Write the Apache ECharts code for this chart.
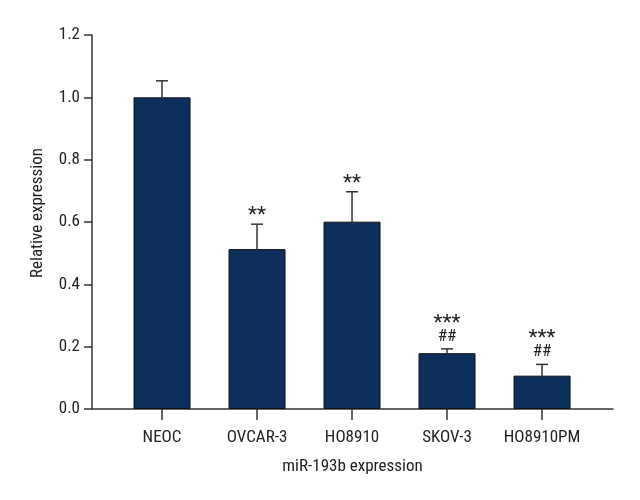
<!DOCTYPE html>
<html><head><meta charset="utf-8">
<script src="https://cdn.jsdelivr.net/npm/echarts@6/dist/echarts.min.js"></script>
<style>html,body{margin:0;padding:0;background:#fff}#c{width:640px;height:500px}</style>
</head><body><div id="c"></div>
<script>
var categories = ['NEOC', 'OVCAR-3', 'HO8910', 'SKOV-3', 'HO8910PM'];
var means = [1.0, 0.513, 0.601, 0.179, 0.107];
var errors = [0.053, 0.080, 0.096, 0.014, 0.036];
var sigStars = ['', '**', '**', '***', '***'];
var sigHash = ['', '', '', '##', '##'];
var yTicks = [0, 0.2, 0.4, 0.6, 0.8, 1.0, 1.2];

var FONT = '"Roboto Condensed", "DejaVu Sans Condensed", sans-serif';
var barColor = '#0c2f5c';
var axisColor = '#333333';

var chart = echarts.init(document.getElementById('c'));
var idx = categories.map(function (_, i) { return i; });

chart.setOption({
  animation: false,
  backgroundColor: '#ffffff',
  grid: { left: 92, right: 27, top: 35, bottom: 91, containLabel: false },
  xAxis: {
    type: 'value', min: -0.737, max: 4.747,
    name: 'miR-193b expression', nameLocation: 'middle', nameGap: 49,
    nameTextStyle: { fontFamily: FONT, fontSize: 17, color: '#222' },
    axisLine: { show: true, onZero: false, lineStyle: { color: axisColor, width: 1.5 } },
    axisTick: { show: true, length: 11, customValues: idx, lineStyle: { color: axisColor, width: 1.5 } },
    axisLabel: { customValues: idx, margin: 20, fontFamily: FONT, fontSize: 17, color: '#222',
      formatter: function (v) { return categories[Math.round(v)]; } },
    splitLine: { show: false }
  },
  yAxis: {
    type: 'value', min: 0, max: 1.2, interval: 0.2,
    name: 'Relative expression', nameLocation: 'middle', nameGap: 46,
    nameTextStyle: { fontFamily: FONT, fontSize: 17, color: '#222', padding: [0, 0, 0, 18] },
    axisLine: { show: true, onZero: false, lineStyle: { color: axisColor, width: 1.5 } },
    axisTick: { show: true, length: 8, lineStyle: { color: axisColor, width: 1.5 } },
    axisLabel: { margin: 12, fontFamily: FONT, fontSize: 17, color: '#222',
      formatter: function (v) { return v.toFixed(1); } },
    splitLine: { show: false }
  },
  series: [
    {
      type: 'bar', barWidth: 57,
      data: means.map(function (m, i) { return [i, m]; }),
      itemStyle: { color: barColor, borderColor: '#111', borderWidth: 1 },
      z: 2
    },
    {
      type: 'custom',
      data: means.map(function (m, i) { return [i, m, errors[i]]; }),
      renderItem: function (params, api) {
        var i = api.value(0), m = api.value(1), e = api.value(2);
        var p0 = api.coord([i, m]);
        var p1 = api.coord([i, m + e]);
        var cap = 6;
        var children = [
          { type: 'line', shape: { x1: p0[0], y1: p0[1] + 2, x2: p1[0], y2: p1[1] },
            style: { stroke: axisColor, lineWidth: 1.5 } },
          { type: 'line', shape: { x1: p1[0] - cap, y1: p1[1], x2: p1[0] + cap, y2: p1[1] },
            style: { stroke: axisColor, lineWidth: 1.5 } }
        ];
        var k = params.dataIndex;
        var y = p1[1] - 4;
        if (sigHash[k]) {
          children.push({ type: 'text', style: { text: sigHash[k], x: p1[0], y: y,
            align: 'center', verticalAlign: 'bottom', font: '17px ' + FONT, fill: '#222' } });
          y -= 17;
        }
        if (sigStars[k]) {
          children.push({ type: 'text', style: { text: sigStars[k], x: p1[0], y: y + 6,
            align: 'center', verticalAlign: 'bottom', font: '21px ' + FONT, fill: '#222' } });
        }
        return { type: 'group', children: children };
      },
      z: 3
    }
  ]
});
</script>
</body></html>
